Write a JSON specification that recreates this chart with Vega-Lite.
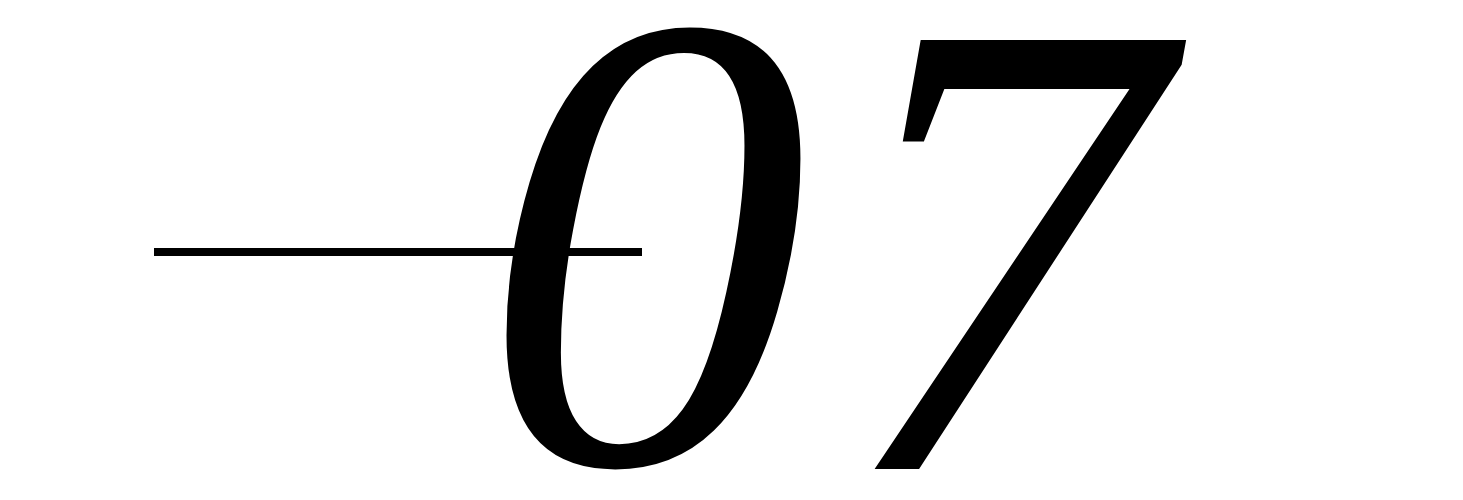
{
  "$schema": "https://vega.github.io/schema/vega-lite/v6.json",
  "autosize": {"type": "none"},
  "width": 1463,
  "height": 500,
  "padding": 0,
  "background": "white",
  "datasets": {
    "glyphs": [
      {"glyph": "0", "px": 645, "py": 463},
      {"glyph": "7", "px": 1000, "py": 469}
    ],
    "bar": [
      {"x1": 154, "x2": 642, "y": 252}
    ]
  },
  "layer": [
    {
      "data": {"name": "bar"},
      "mark": {"type": "rule", "color": "black", "strokeWidth": 8, "strokeCap": "butt"},
      "encoding": {
        "x": {"field": "x1", "type": "quantitative", "scale": {"domain": [0, 1463]}, "axis": null},
        "x2": {"field": "x2"},
        "y": {"field": "y", "type": "quantitative", "scale": {"domain": [0, 500], "reverse": true}, "axis": null}
      }
    },
    {
      "data": {"name": "glyphs"},
      "mark": {
        "type": "text",
        "font": "Liberation Serif",
        "fontStyle": "italic",
        "fontSize": 655,
        "align": "center",
        "baseline": "alphabetic",
        "color": "black"
      },
      "encoding": {
        "x": {"field": "px", "type": "quantitative", "scale": {"domain": [0, 1463]}, "axis": null},
        "y": {"field": "py", "type": "quantitative", "scale": {"domain": [0, 500], "reverse": true}, "axis": null},
        "text": {"field": "glyph", "type": "nominal"}
      }
    }
  ],
  "config": {
    "view": {"stroke": null}
  }
}
